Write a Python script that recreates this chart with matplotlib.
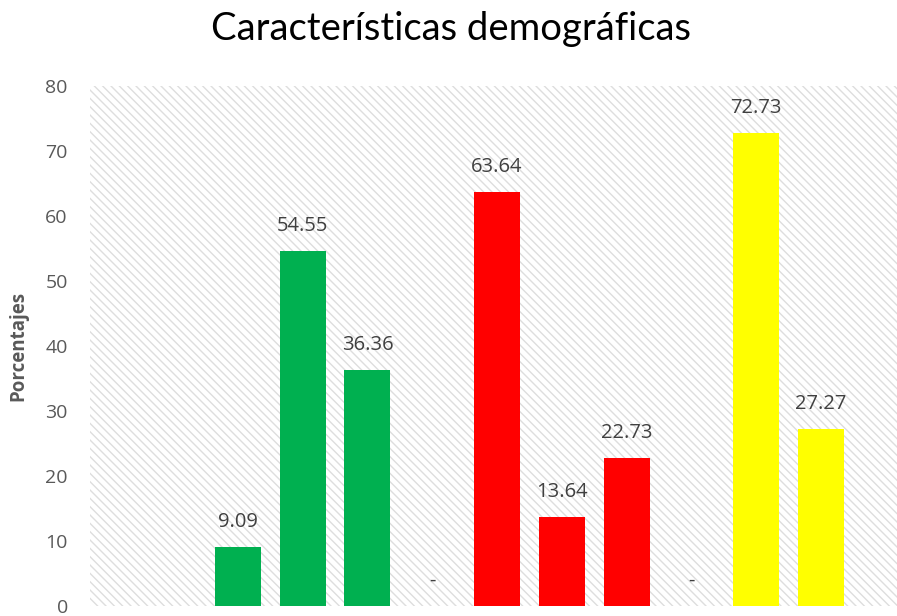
import matplotlib.pyplot as plt
from matplotlib.patches import Rectangle

# values (0 bars shown as "-")
values = [9.09, 54.55, 36.36, 0, 63.64, 13.64, 22.73, 0, 72.73, 27.27]
bar_colors = ['#00b050', '#00b050', '#00b050', '#00b050',
              '#ff0000', '#ff0000', '#ff0000', '#ff0000',
              '#ffff00', '#ffff00']
yticks = [0, 10, 20, 30, 40, 50, 60, 70, 80]

plt.rcParams['font.family'] = ['Open Sans', 'DejaVu Sans']
plt.rcParams['hatch.linewidth'] = 1.0

fig = plt.figure(figsize=(8.97, 6.16), dpi=100)
ax = fig.add_axes([90/897, 10/616, 1 - 90/897, 520/616])

# hatched plot-area background
bg = Rectangle((0, 0), 1, 1, transform=ax.transAxes, facecolor='white',
               edgecolor='#dedede', linewidth=0, hatch='\\' * 4, zorder=0)
ax.add_patch(bg)

x = list(range(len(values)))
bars = ax.bar(x, values, width=0.71, color=bar_colors, zorder=2)

for xi, v in zip(x, values):
    txt = '-' if v == 0 else '%.2f' % v
    ax.annotate(txt, (xi, v), xytext=(0, 18), textcoords='offset points',
                ha='center', va='center', fontsize=14.5, color='#404040')

ax.set_xlim(-2.28, 10.17)
ax.set_ylim(0, 80)
ax.set_yticks(yticks)
ax.set_xticks([])
ax.tick_params(axis='y', length=0, pad=16, labelsize=14, labelcolor='#595959')
for s in ax.spines.values():
    s.set_visible(False)

ax.set_ylabel('Porcentajes', fontsize=13.5, fontweight='bold', color='#595959',
              labelpad=12)
fig.text(0.503, 0.953, 'Características demográficas', ha='center', va='center',
         fontsize=27.5, color='black', family='Lato')

fig.savefig('out.png', dpi=100)
